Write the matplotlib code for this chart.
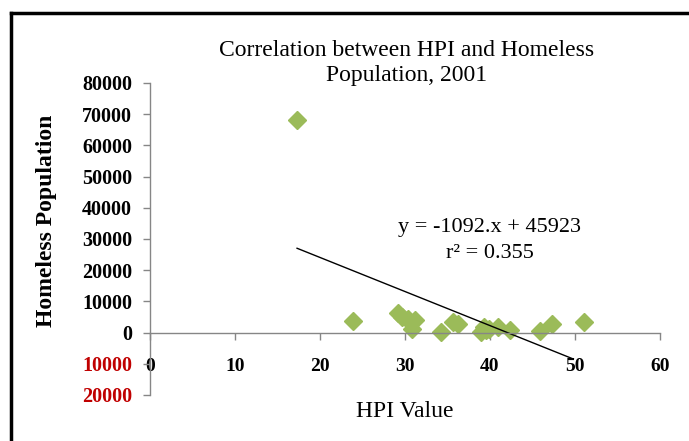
import numpy as np
import matplotlib
matplotlib.use('Agg')
import matplotlib.pyplot as plt
from matplotlib.lines import Line2D
from matplotlib.ticker import FuncFormatter

plt.rcParams['font.family'] = ['Liberation Serif', 'DejaVu Serif']

TITLE = "Correlation between HPI and Homeless\nPopulation, 2001"
XLABEL = 'HPI Value'
YLABEL = 'Homeless Population'
MARKER_COLOR = '#9BBB59'
AXIS_COLOR = '#868686'
NEG_COLOR = '#C00000'

# data
hpi = [17.3, 23.9, 29.2, 29.7, 30.4, 30.6, 30.8, 31.2, 34.2, 35.7, 36.2,
       38.9, 39.3, 39.5, 39.9, 40.9, 42.3, 45.9, 47.3, 51.1]
homeless = [68000, 3800, 6400, 5100, 4200, 3500, 1000, 4000, 200, 3300, 2600,
            200, 1800, 800, 1200, 1800, 800, 500, 2900, 3500]

# excel trendline
SLOPE = -1092
INTERCEPT = 45923
R2 = 0.355
TREND_END = 49.8

x_ticks = [0, 10, 20, 30, 40, 50, 60]
y_ticks = [-20000, -10000, 0, 10000, 20000, 30000, 40000, 50000, 60000, 70000, 80000]

fig = plt.figure(figsize=(6.89, 4.41), dpi=100)
ax = fig.add_axes([150/689, 1-395/441, 510/689, 312/441])

ax.plot(hpi, homeless, 'D', color=MARKER_COLOR, ms=9, mec=MARKER_COLOR)

tx = np.array([min(hpi), TREND_END])
ax.plot(tx, SLOPE*tx + INTERCEPT, color='black', lw=1)

ax.set_xlim(0, 60)
ax.set_ylim(-20000, 80000)
ax.set_xticks(x_ticks)
ax.set_yticks(y_ticks)
ax.yaxis.set_major_formatter(FuncFormatter(lambda v, p: '%d' % abs(v)))

for s in ['top', 'right']:
    ax.spines[s].set_visible(False)
ax.spines['bottom'].set_position(('data', 0))
for s in ['left', 'bottom']:
    ax.spines[s].set_color(AXIS_COLOR)
    ax.spines[s].set_linewidth(1)

ax.tick_params(axis='both', color=AXIS_COLOR, length=5, width=1, direction='out')
ax.tick_params(axis='x', pad=13, labelsize=14)
ax.tick_params(axis='y', pad=8, labelsize=14.5)
for lab in ax.get_xticklabels() + ax.get_yticklabels():
    lab.set_fontweight('bold')
for lab, v in zip(ax.get_yticklabels(), y_ticks):
    if v < 0:
        lab.set_color(NEG_COLOR)

ax.set_ylabel(YLABEL, fontsize=17, fontweight='bold')
ax.yaxis.set_label_coords(-0.183, 0.558)
ax.set_xlabel(XLABEL, fontsize=17)
ax.xaxis.set_label_coords(0.5, -0.02)

ax.text(40, 29500, 'y = -1092.x + 45923\nr² = 0.355', fontsize=16,
        ha='center', va='center', linespacing=1.45)

fig.text(407/689, 1-63/441, TITLE, fontsize=17, ha='center', va='center',
         linespacing=1.2)

# outer frame of the screenshot
fig.add_artist(Line2D([11/689, 11/689], [0, 1-13/441], color='black', lw=2.5,
                      transform=fig.transFigure))
fig.add_artist(Line2D([11/689, 1], [1-13/441, 1-13/441], color='black', lw=2.5,
                      transform=fig.transFigure))

fig.savefig('out.png', dpi=100)
